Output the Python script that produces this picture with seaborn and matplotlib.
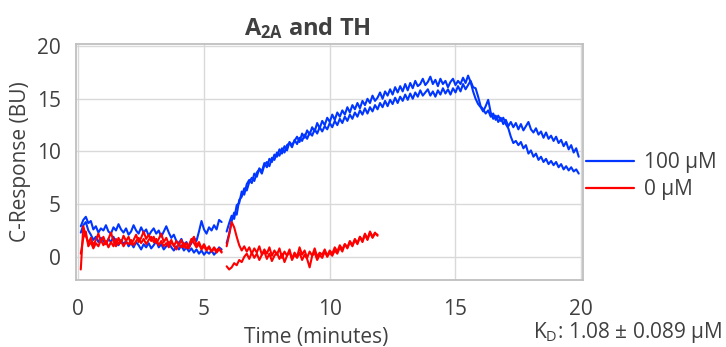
import matplotlib
matplotlib.use("Agg")
import matplotlib.pyplot as plt
import seaborn as sns
import pandas as pd

# ---------------- data ----------------
TIME_BASE = [0.1, 0.2, 0.3, 0.4, 0.5, 0.6, 0.7, 0.8, 0.9, 1.0,
             1.1, 1.2, 1.3, 1.4, 1.5, 1.6, 1.7, 1.8, 1.9, 2.0,
             2.1, 2.2, 2.3, 2.4, 2.5, 2.6, 2.7, 2.8, 2.9, 3.0,
             3.1, 3.2, 3.3, 3.4, 3.5, 3.6, 3.7, 3.8, 3.9, 4.0,
             4.1, 4.2, 4.3, 4.4, 4.5, 4.6, 4.7, 4.8, 4.9, 5.0,
             5.1, 5.2, 5.3, 5.4, 5.5, 5.6, 5.7]

TIME_RESP = [5.9, 6.0, 6.1, 6.2, 6.3, 6.4, 6.5, 6.6, 6.7, 6.8,
             6.9, 7.0, 7.1, 7.2, 7.3, 7.4, 7.5, 7.6, 7.7, 7.8,
             7.9, 8.0, 8.1, 8.2, 8.3, 8.4, 8.5, 8.6, 8.7, 8.8,
             8.9, 9.0, 9.1, 9.2, 9.3, 9.4, 9.5, 9.6, 9.7, 9.8,
             9.9, 10.0, 10.1, 10.2, 10.3, 10.4, 10.5, 10.6, 10.7, 10.8,
             10.9, 11.0, 11.1, 11.2, 11.3, 11.4, 11.5, 11.6, 11.7, 11.8,
             11.9, 12.0, 12.1, 12.2, 12.3, 12.4, 12.5, 12.6, 12.7, 12.8,
             12.9, 13.0, 13.1, 13.2, 13.3, 13.4, 13.5, 13.6, 13.7, 13.8,
             13.9, 14.0, 14.1, 14.2, 14.3, 14.4, 14.5, 14.6, 14.7, 14.8,
             14.9, 15.0, 15.1, 15.2, 15.3, 15.4, 15.5, 15.6, 15.7, 15.8,
             15.9, 16.0, 16.1, 16.2, 16.3, 16.4, 16.5, 16.6, 16.7, 16.8,
             16.9, 17.0, 17.1, 17.2, 17.3, 17.4, 17.5, 17.6, 17.7, 17.8,
             17.9, 18.0, 18.1, 18.2, 18.3, 18.4, 18.5, 18.6, 18.7, 18.8,
             18.9, 19.0, 19.1, 19.2, 19.3, 19.4, 19.5, 19.6, 19.7, 19.8,
             19.9]

# 100 uM, baseline part (two repeats)
BLUE_BASE_A = [2.9, 3.5, 3.8, 3.2, 3.4, 2.6, 2.9, 2.3, 2.7, 2.5,
               3.0, 2.4, 2.2, 2.8, 2.5, 3.1, 2.6, 2.3, 2.7, 2.1,
               2.4, 3.0, 2.5, 2.2, 2.8, 2.3, 2.6, 2.0, 2.4, 2.7,
               2.2, 2.5, 1.9, 2.4, 2.9, 2.3, 1.8, 2.1, 1.5, 1.3,
               1.7, 1.1, 1.4, 0.9, 1.3, 1.8, 1.5, 2.4, 3.4, 2.6,
               2.2, 2.8, 2.5, 3.0, 2.6, 3.5, 3.3]
BLUE_BASE_B = [2.3, 3.0, 3.3, 2.5, 2.1, 1.6, 1.9, 1.4, 1.8, 1.5,
               1.2, 1.7, 1.4, 1.9, 1.3, 1.1, 1.6, 1.2, 1.5, 1.0,
               1.3, 0.9, 1.4, 1.1, 0.7, 1.2, 0.9, 1.3, 0.8, 1.1,
               1.5, 0.9, 1.2, 0.7, 1.0, 1.4, 0.9, 0.6, 1.0, 0.7,
               1.1, 0.6, 0.9, 0.5, 0.8, 0.4, 0.7, 0.3, 0.6, 0.2,
               0.5, 0.3, 0.6, 0.2, 0.5, 0.9, 0.7]

# 100 uM, association/dissociation part (two repeats)
BLUE_RESP_A = [2.4, 3.2, 3.9, 3.6, 4.9, 5.1, 6.2, 5.9, 6.9, 7.3,
               7.0, 7.9, 7.6, 8.4, 8.1, 8.9, 8.5, 9.3, 9.0, 9.7,
               9.5, 10.2, 9.8, 10.5, 10.1, 10.9, 10.6, 11.0, 11.4, 10.9,
               11.7, 11.3, 12.0, 11.6, 12.3, 11.9, 12.7, 12.2, 12.9, 12.5,
               13.2, 12.8, 13.5, 13.0, 13.7, 13.3, 13.9, 13.5, 14.2, 13.7,
               14.4, 14.0, 14.6, 14.1, 14.8, 14.4, 15.0, 14.6, 15.3, 14.8,
               15.1, 15.6, 15.0, 15.7, 15.3, 15.9, 15.4, 16.1, 15.6, 16.2,
               15.7, 16.4, 15.8, 16.5, 16.0, 16.7, 16.2, 16.4, 16.9, 16.3,
               16.6, 17.1, 16.4, 16.8, 16.2, 16.9, 16.4, 16.7, 16.1, 16.6,
               16.9, 16.3, 16.7, 16.4, 17.0, 16.5, 17.2, 16.6, 15.7, 15.0,
               14.5, 14.2, 13.8, 14.3, 14.9, 13.7, 13.1, 13.4, 12.8, 13.2,
               12.6, 13.0, 12.4, 12.8, 12.3, 12.7, 12.1, 12.6, 12.0, 12.4,
               12.8, 12.1, 11.8, 12.2, 11.6, 11.9, 11.3, 11.8, 11.2, 11.5,
               11.0, 11.4, 10.8, 11.1, 10.5, 10.9, 10.2, 10.6, 9.9, 10.3,
               9.5]
BLUE_RESP_B = [1.3, 2.2, 3.4, 4.2, 4.0, 5.4, 5.7, 6.5, 6.3, 7.1,
               7.5, 7.2, 8.0, 8.3, 7.9, 8.7, 9.0, 8.6, 9.4, 9.2,
               9.9, 9.6, 10.3, 9.9, 10.6, 10.8, 10.4, 11.1, 10.7, 11.3,
               11.0, 11.6, 11.2, 11.8, 11.5, 12.1, 11.7, 12.3, 11.9, 12.4,
               12.1, 12.7, 12.3, 12.9, 12.5, 13.1, 12.7, 13.3, 12.9, 13.5,
               13.1, 13.7, 13.3, 13.9, 13.5, 14.1, 13.6, 14.2, 13.8, 14.4,
               14.0, 14.6, 14.2, 14.8, 14.3, 14.9, 14.5, 15.1, 14.6, 15.2,
               14.8, 15.4, 14.9, 15.5, 15.0, 15.6, 15.2, 15.8, 15.3, 15.6,
               15.9, 15.3, 15.7, 15.2, 15.8, 15.4, 16.0, 15.5, 15.9, 15.4,
               16.0, 15.6, 16.2, 15.7, 16.4, 15.9, 16.3, 16.7, 16.1, 16.0,
               15.2, 14.3, 14.0, 13.6, 13.9, 13.3, 13.6, 13.0, 13.4, 12.9,
               13.2, 12.6, 12.2, 11.4, 10.8, 11.0, 10.6, 10.9, 10.3, 10.6,
               9.8, 10.1, 9.5, 9.8, 9.2, 9.5, 9.0, 9.3, 8.8, 9.1,
               8.7, 9.0, 8.5, 8.8, 8.3, 8.6, 8.2, 8.5, 8.1, 8.3,
               7.9]

# 0 uM, baseline part (two repeats)
RED_BASE_A = [-1.2, 2.9, 2.0, 1.3, 1.8, 1.1, 1.6, 2.2, 1.4, 1.9,
              1.2, 1.7, 2.3, 1.5, 1.0, 1.8, 1.3, 2.0, 1.5, 1.9,
              1.2, 1.6, 2.1, 1.4, 1.8, 2.4, 1.7, 2.1, 1.5, 1.9,
              1.3, 1.7, 2.2, 1.4, 1.8, 1.2, 1.6, 1.0, 1.5, 1.1,
              1.6, 0.9, 1.3, 0.8, 1.5, 1.9, 1.1, 1.4, 0.8, 1.2,
              0.7, 1.0, 0.5, 0.9, 0.6, 0.8, 0.4]
RED_BASE_B = [0.3, 1.8, 2.4, 1.0, 1.4, 0.8, 1.3, 1.0, 1.6, 1.1,
              1.5, 0.9, 1.4, 1.0, 1.7, 1.2, 1.5, 1.0, 1.4, 1.2,
              1.6, 1.1, 1.5, 1.8, 1.3, 1.7, 1.2, 1.6, 1.9, 1.4,
              1.7, 1.1, 1.5, 1.0, 1.3, 0.9, 1.4, 1.1, 0.7, 1.2,
              0.9, 1.3, 0.8, 1.1, 1.7, 1.3, 0.9, 1.2, 0.7, 1.0,
              0.6, 0.9, 0.5, 0.8, 0.4, 0.7, 0.5]

# 0 uM, association part (two repeats, 5.9 - 11.9 min)
RED_RESP_A = [1.0, 2.1, 3.3, 2.8, 1.9, 1.1, 0.6, 1.0, 0.5, 0.9,
              0.3, 0.8, 0.4, 1.0, 0.2, 0.7, 0.3, 0.9, 0.1, 0.6,
              0.2, 0.8, -0.1, 0.5, 0.1, 0.7, -0.2, 0.4, 0.0, 0.9,
              0.2, 0.6, -0.1, 0.5, 0.1, 0.8, 0.0, 0.4, 0.2, 0.7,
              0.1, 0.6, 0.3, 0.9, 0.5, 1.1, 0.7, 1.2, 0.9, 1.5,
              1.1, 1.7, 1.3, 1.9, 1.5, 2.2, 1.7, 2.4, 1.9, 2.3,
              2.0]
RED_RESP_B = [-0.9, -1.2, -1.0, -0.6, -0.8, -0.3, -0.5, 0.0, 0.3, -0.2,
              0.4, -0.1, 0.3, -0.3, 0.2, 0.5, -0.2, 0.3, -0.4, 0.1,
              0.4, -0.2, 0.3, -0.5, 0.1, 0.5, -0.3, 0.2, -0.1, 0.4,
              -0.3, 0.2, -0.2, -1.0, 0.1, 0.4, -0.3, 0.2, -0.1, 0.5,
              0.0, 0.4, 0.1, 0.6, 0.3, 0.9, 0.5, 1.2, 0.8, 1.4,
              1.0, 1.6, 1.2, 1.9, 1.4, 2.1, 1.6, 2.3, 1.8, 2.2,
              2.1]

CONC_HIGH = "100 μM"
CONC_ZERO = "0 μM"
TITLE_MAIN = " and TH"
X_LABEL = "Time (minutes)"
Y_LABEL = "C-Response (BU)"
KD_TEXT = r"K$_\mathregular{D}$: 1.08 ± 0.089 μM"
X_TICKS = [0, 5, 10, 15, 20]
Y_TICKS = [0, 5, 10, 15, 20]

segments = [
    (CONC_HIGH, "b_base_a", TIME_BASE, BLUE_BASE_A),
    (CONC_HIGH, "b_base_b", TIME_BASE, BLUE_BASE_B),
    (CONC_HIGH, "b_resp_a", TIME_RESP, BLUE_RESP_A),
    (CONC_HIGH, "b_resp_b", TIME_RESP, BLUE_RESP_B),
    (CONC_ZERO, "r_base_a", TIME_BASE, RED_BASE_A),
    (CONC_ZERO, "r_base_b", TIME_BASE, RED_BASE_B),
    (CONC_ZERO, "r_resp_a", TIME_RESP[:len(RED_RESP_A)], RED_RESP_A),
    (CONC_ZERO, "r_resp_b", TIME_RESP[:len(RED_RESP_B)], RED_RESP_B),
]
rows = []
for conc, seg, tt, yy in segments:
    n = min(len(tt), len(yy))
    for t, y in zip(tt[:n], yy[:n]):
        rows.append({"time": t, "resp": y, "conc": conc, "seg": seg})
df = pd.DataFrame(rows)

# ---------------- style ----------------
sns.set_theme(style="white")
plt.rcParams["font.family"] = ["Open Sans", "DejaVu Sans"]
plt.rcParams["mathtext.fontset"] = "custom"
plt.rcParams["mathtext.rm"] = "Open Sans"
plt.rcParams["mathtext.bf"] = "Open Sans:bold"
TXT = "#404040"
GRID = "#d9d9d9"
SPINE = "#bfbfbf"

fig = plt.figure(figsize=(7.26, 3.47), dpi=100)
ax = fig.add_axes([76 / 726, 1 - 280 / 347, (583 - 76) / 726, (280 - 44) / 347])

sns.lineplot(data=df, x="time", y="resp", hue="conc", units="seg",
             estimator=None, sort=False, hue_order=[CONC_HIGH, CONC_ZERO],
             palette={CONC_HIGH: "#0036ff", CONC_ZERO: "#ff0000"},
             linewidth=1.5, ax=ax)

ax.set_xlim(-0.09, 20.07)
ax.set_ylim(-2.2, 20.2)
ax.set_xticks(X_TICKS)
ax.set_yticks(Y_TICKS)
ax.grid(True, color=GRID, linewidth=1.0)
ax.set_axisbelow(True)
for s in ax.spines.values():
    s.set_color(SPINE)
    s.set_linewidth(1.3)
ax.tick_params(axis="both", colors=SPINE, labelcolor=TXT, labelsize=15,
               direction="out", length=6, width=1.0)
ax.tick_params(axis="x", pad=8)
ax.tick_params(axis="y", pad=5)
ax.set_xlabel("")
ax.set_ylabel(Y_LABEL, color=TXT, fontsize=15, labelpad=4)

handles, labels = ax.get_legend_handles_labels()
ax.legend(handles, labels, loc="center left", bbox_to_anchor=(586 / 726, 1 - 176 / 347),
          bbox_transform=fig.transFigure, frameon=False, fontsize=15,
          handlelength=2.3, handletextpad=0.5, labelspacing=0.3,
          borderpad=0, borderaxespad=0, labelcolor=TXT)
for h in ax.get_legend().legend_handles:
    h.set_linewidth(1.6)

fig.text(307 / 726, 1 - 35 / 347, r"$\mathbf{A_{2A}}$" + TITLE_MAIN,
         ha="center", va="baseline", fontsize=17, fontweight="bold", color=TXT)
fig.text(316 / 726, 1 - 343 / 347, X_LABEL, ha="center", va="baseline",
         fontsize=15, color=TXT)
fig.text(722 / 726, 1 - 338 / 347, KD_TEXT, ha="right", va="baseline",
         fontsize=15, color=TXT)

fig.savefig("out.png", dpi=100)
